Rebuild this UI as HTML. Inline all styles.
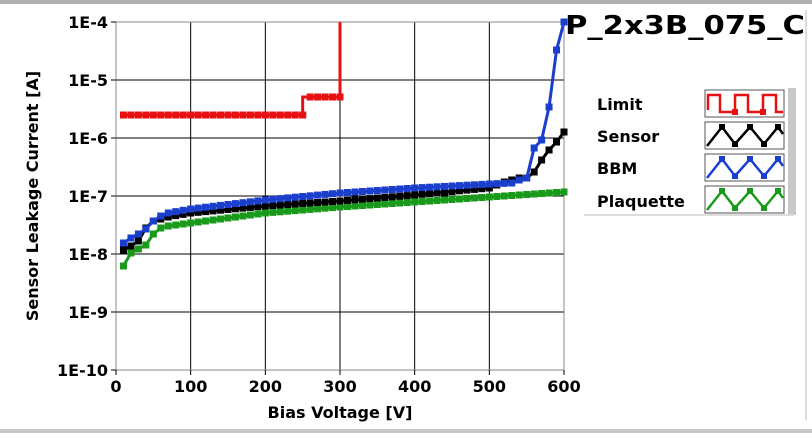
<!DOCTYPE html>
<html><head><meta charset="utf-8"><style>
body{margin:0;width:812px;height:433px;background:#fff;overflow:hidden;}
</style></head><body>
<svg id="s" width="812" height="433" xmlns="http://www.w3.org/2000/svg" font-family="DejaVu Sans, Liberation Sans, sans-serif" font-weight="bold">
<rect x="0" y="0" width="812" height="4" fill="#b0b0b0"/>
<rect x="0" y="429" width="812" height="4" fill="#c8c8c8"/>
<line x1="806" y1="10" x2="806" y2="420" stroke="#ddd" stroke-width="2"/>
<g id="grid" stroke="#000" stroke-width="1"></g>
<rect x="116" y="22" width="448" height="348" fill="none" stroke="#888" stroke-width="1"/>
<g id="ticks" font-size="16" fill="#000"></g>
<text x="340" y="418" font-size="16" text-anchor="middle">Bias Voltage [V]</text>
<text transform="translate(38,196) rotate(-90)" font-size="16" text-anchor="middle">Sensor Leakage Current [A]</text>
<g id="series"></g>
<text x="565" y="34" font-size="26" textLength="240" lengthAdjust="spacingAndGlyphs">P_2x3B_075_C</text>
<rect x="582" y="87" width="210" height="128" fill="#fff"/>
<rect x="788" y="88" width="8" height="127" fill="#c8c8c8"/>
<rect x="584" y="214" width="210" height="2" fill="#ddd"/>
<g font-size="16"><text x="597" y="110">Limit</text><text x="597" y="142">Sensor</text><text x="597" y="174">BBM</text><text x="597" y="207">Plaquette</text></g>
<g id="leg"></g>
</svg>
<script>
var NS="http://www.w3.org/2000/svg";
function el(p,t,a){var e=document.createElementNS(NS,t);for(var k in a)e.setAttribute(k,a[k]);p.appendChild(e);return e;}
var X=function(v){return 116+v*448/600;};
var g=document.getElementById('grid'),tk=document.getElementById('ticks');
for(var i=1;i<6;i++){el(g,'line',{x1:X(i*100),y1:22,x2:X(i*100),y2:370});}
for(var j=0;j<6;j++){var y=22+j*58;el(g,'line',{x1:116,y1:y,x2:564,y2:y});}
var yl=['1E-4','1E-5','1E-6','1E-7','1E-8','1E-9','1E-10'];
for(var j=0;j<7;j++){var y=22+j*58;var t=el(tk,'text',{x:108,y:y+6,'text-anchor':'end'});t.textContent=yl[j];el(tk,'line',{x1:111,y1:y,x2:116,y2:y,stroke:'#000'});}
for(var i=0;i<7;i++){var t=el(tk,'text',{x:X(i*100),y:392,'text-anchor':'middle'});t.textContent=String(i*100);el(tk,'line',{x1:X(i*100),y1:370,x2:X(i*100),y2:375,stroke:'#000'});}
function interp(a,v){for(var i=0;i<a.length-1;i++){if(v>=a[i][0]&&v<=a[i+1][0]){var f=(v-a[i][0])/(a[i+1][0]-a[i][0]);return a[i][1]+f*(a[i+1][1]-a[i][1]);}}return a[a.length-1][1];}
var S=document.getElementById('series');
function draw(anch,col){var pts=[];for(var v=10;v<=600;v+=10){pts.push([X(v),interp(anch,v)]);}
el(S,'polyline',{points:pts.map(function(p){return p[0]+','+p[1]}).join(' '),fill:'none',stroke:col,'stroke-width':3});
pts.forEach(function(p){el(S,'rect',{x:p[0]-3.5,y:p[1]-3.5,width:7,height:7,fill:col});});}
draw([[10,266],[20,253],[30,249],[40,245],[50,234],[60,228],[70,226],[100,223],[200,213],[300,207],[400,202],[500,197],[600,192]],'#1a9a1a');
draw([[10,250],[20,246],[30,241],[40,228],[50,221],[60,219],[70,217],[100,213],[200,206],[300,201],[400,195],[500,188],[520,182],[540,178],[550,178],[560,172],[570,160],[580,150],[590,142],[600,132]],'#000');
draw([[10,243],[20,238],[30,234],[40,229],[50,221],[60,216],[70,213],[100,209],[200,200],[300,193],[400,188],[500,184],[530,183],[540,180],[550,178],[560,148],[570,140],[580,107],[590,50],[600,22]],'#1a3fcc');
var lp=[];for(var v=10;v<=300;v+=10){lp.push([X(v),v<=250?115:97]);}
var path='M'+X(10)+',115 L'+X(250)+',115 L'+X(250)+',97 L'+X(300)+',97 L'+X(300)+',22';
el(S,'path',{d:path,fill:'none',stroke:'#e81010','stroke-width':3});
lp.forEach(function(p){el(S,'rect',{x:p[0]-3.5,y:p[1]-3.5,width:7,height:7,fill:'#e81010'});});
el(S,'rect',{x:X(250)-3.5,y:111.5,width:7,height:7,fill:'#e81010'});
var L=document.getElementById('leg');
var cols=['#e81010','#000','#1a3fcc','#1a9a1a'];
for(var r=0;r<4;r++){var y0=90+r*32;el(L,'rect',{x:705,y:y0,width:79,height:27,fill:'#fff',stroke:'#555'});
var d;if(r==0){d='M708,'+(y0+20)+' L708,'+(y0+5)+' L720,'+(y0+5)+' L720,'+(y0+22)+' L735,'+(y0+22)+' L735,'+(y0+5)+' L748,'+(y0+5)+' L748,'+(y0+22)+' L763,'+(y0+22)+' L763,'+(y0+5)+' L776,'+(y0+5)+' L776,'+(y0+22)+' L783,'+(y0+22);}
else{d='M707,'+(y0+24)+' L722,'+(y0+5)+' L735,'+(y0+22)+' L750,'+(y0+5)+' L764,'+(y0+22)+' L778,'+(y0+5)+' L783,'+(y0+12);}
el(L,'path',{d:d,fill:'none',stroke:cols[r],'stroke-width':2.5});
[[722,5],[735,22],[750,5],[764,22],[778,5]].forEach(function(p){if(r==0)return;el(L,'rect',{x:p[0]-3,y:y0+p[1]-3,width:6,height:6,fill:cols[r]});});
if(r==0){[[735,22],[763,22]].forEach(function(p){el(L,'rect',{x:p[0]-3,y:y0+p[1]-3,width:6,height:6,fill:cols[0]});});}
}
</script>
</body></html>
